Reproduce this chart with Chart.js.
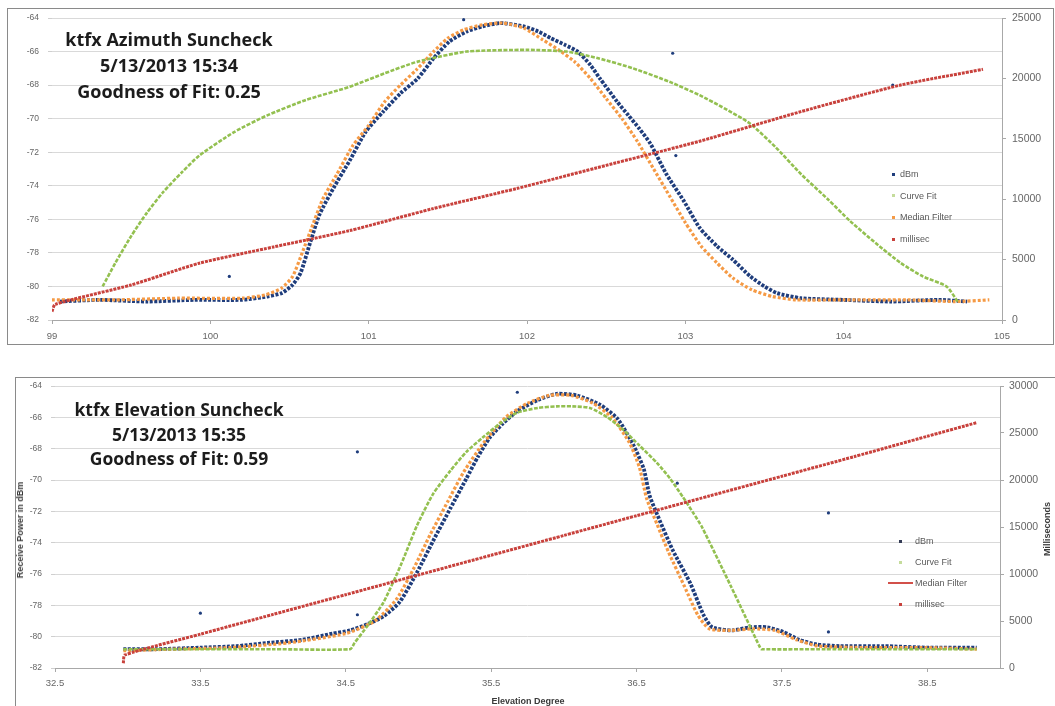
<!DOCTYPE html>
<html>
<head>
<meta charset="utf-8">
<script src="https://cdn.jsdelivr.net/npm/chart.js@4.4.1/dist/chart.umd.min.js"></script>
<style>
  body { margin: 0; background: #fff; width: 1055px; height: 706px; overflow: hidden; position: relative; font-family: "Liberation Sans", Arial, sans-serif; }
  .frame { position: absolute; border: 1px solid #8a8a8a; }
  canvas { position: absolute; left: 0; }
  .note { position: absolute; width: 300px; text-align: center; font-family: "Open Sans", Lato, sans-serif; font-weight: 700; color: #1c1c1c; }
  .leg { position: absolute; font-size: 9px; color: #595959; white-space: nowrap; line-height: 12px; }
  .leg i { position: absolute; display: block; }
  .axt { position: absolute; font-size: 9px; font-weight: 700; color: #3a3a3a; white-space: nowrap; transform: translate(-50%, -50%); }
</style>
</head>
<body>
<div class="frame" style="left:7px; top:8px; width:1045px; height:335px;"></div>
<div class="frame" style="left:15px; top:377px; width:1050px; height:340px;"></div>
<canvas id="azChart" width="1055" height="360" style="top:0"></canvas>
<canvas id="elChart" width="1055" height="336" style="top:370px"></canvas>

<div class="note" style="left:19px; top:26px; font-size:18px; line-height:26px;">ktfx Azimuth Suncheck<br>5/13/2013 15:34<br>Goodness of Fit: 0.25</div>
<div class="note" style="left:29px; top:397px; font-size:17.5px; line-height:24.5px;">ktfx Elevation Suncheck<br>5/13/2013 15:35<br>Goodness of Fit: 0.59</div>

<div class="axt" style="left:20px; top:530px; transform: translate(-50%, -50%) rotate(-90deg);">Receive Power in dBm</div>
<div class="axt" style="left:1047px; top:529px; transform: translate(-50%, -50%) rotate(-90deg);">Milliseconds</div>
<div class="axt" style="left:528px; top:701px;">Elevation Degree</div>

<div id="azLegend"></div>
<div id="elLegend"></div>

<script>
const seriesNames = ["dBm", "Curve Fit", "Median Filter", "millisec"];

// Azimuth suncheck (top chart): [azimuth degree, value]
const azTicksX = [99, 100, 101, 102, 103, 104, 105];
const azDbm = [
  [99.05, -80.9], [99.3, -80.8], [99.6, -80.9], [99.9, -80.8], [100.2, -80.8], [100.36, -80.6],
  [100.45, -80.4], [100.52, -79.9], [100.57, -79.2], [100.63, -77.4], [100.69, -75.7], [100.78, -74.1],
  [100.88, -72.5], [100.98, -70.8], [101.09, -69.6], [101.2, -68.5], [101.31, -67.6], [101.41, -66.4],
  [101.51, -65.4], [101.62, -64.8], [101.72, -64.5], [101.83, -64.3], [101.98, -64.5], [102.07, -64.8],
  [102.15, -65.2], [102.24, -65.6], [102.32, -66.0], [102.4, -66.8], [102.46, -67.6], [102.57, -69.0],
  [102.64, -69.8], [102.71, -70.6], [102.78, -71.5], [102.88, -73.3], [102.99, -74.9], [103.09, -76.5],
  [103.2, -77.6], [103.3, -78.4], [103.41, -79.4], [103.5, -80.0], [103.58, -80.4], [103.73, -80.7],
  [104.0, -80.8], [104.3, -80.9], [104.6, -80.8], [104.78, -80.9]
];
const azDbmStray = [[100.12, -79.4], [102.92, -66.1], [102.94, -72.2], [104.31, -68.0], [101.6, -64.1]];
const azCurveFit = [
  [99.32, -80.0], [99.4, -78.6], [99.5, -77.0], [99.6, -75.6], [99.7, -74.4], [99.82, -73.2],
  [99.93, -72.2], [100.15, -70.8], [100.36, -69.8], [100.6, -68.9], [100.88, -68.1], [101.1, -67.3],
  [101.31, -66.6], [101.62, -66.0], [102.0, -65.9], [102.25, -66.0], [102.45, -66.4], [102.67, -67.0],
  [102.9, -67.8], [103.09, -68.6], [103.25, -69.4], [103.41, -70.3], [103.57, -71.7], [103.73, -73.3],
  [103.9, -74.8], [104.04, -76.1], [104.2, -77.4], [104.36, -78.6], [104.5, -79.4], [104.65, -80.0],
  [104.72, -80.9]
];
const azMedian = [
  [99.0, -80.8], [99.4, -80.8], [99.8, -80.7], [100.2, -80.7], [100.35, -80.5], [100.45, -80.1],
  [100.52, -79.4], [100.58, -78.0], [100.64, -76.5], [100.71, -74.8], [100.8, -73.3], [100.9, -71.6],
  [101.0, -70.4], [101.1, -69.0], [101.2, -68.0], [101.3, -67.1], [101.41, -66.0], [101.5, -65.2],
  [101.6, -64.7], [101.72, -64.4], [101.85, -64.3], [101.98, -64.6], [102.1, -65.3], [102.2, -65.9],
  [102.3, -66.6], [102.4, -67.6], [102.5, -68.8], [102.6, -70.0], [102.7, -71.4], [102.8, -73.0],
  [102.9, -74.6], [103.0, -76.2], [103.1, -77.6], [103.2, -78.6], [103.3, -79.5], [103.42, -80.2],
  [103.55, -80.6], [103.7, -80.8], [104.0, -80.8], [104.4, -80.8], [104.7, -80.9], [104.92, -80.8]
];
const azMillisec = [
  [99.0, 700], [99.02, 1300], [99.5, 2900], [99.93, 4700], [100.4, 6050], [100.88, 7400], [101.4, 9200],
  [101.94, 10900], [102.5, 12800], [103.09, 14800], [103.73, 17250], [104.36, 19450], [104.88, 20750]
];

// Elevation suncheck (bottom chart): [elevation degree, value]
const elTicksX = [32.5, 33.5, 34.5, 35.5, 36.5, 37.5, 38.5];
const elDbm = [
  [32.97, -80.8], [33.2, -80.8], [33.5, -80.7], [33.75, -80.6], [33.96, -80.4], [34.2, -80.2],
  [34.41, -79.8], [34.53, -79.6], [34.65, -79.2], [34.76, -78.7], [34.87, -77.8], [34.99, -75.9],
  [35.1, -73.9], [35.22, -71.8], [35.33, -69.9], [35.41, -68.5], [35.49, -67.3], [35.58, -66.4],
  [35.68, -65.6], [35.82, -64.9], [35.95, -64.5], [36.09, -64.6], [36.25, -65.2], [36.37, -66.1],
  [36.48, -67.8], [36.55, -69.3], [36.59, -71.0], [36.66, -72.6], [36.75, -74.5], [36.87, -76.6],
  [36.96, -78.6], [37.02, -79.4], [37.16, -79.6], [37.28, -79.4], [37.4, -79.4], [37.51, -79.7],
  [37.62, -80.2], [37.74, -80.5], [37.9, -80.6], [38.2, -80.6], [38.5, -80.7], [38.84, -80.7]
];
const elDbmStray = [[33.5, -78.5], [34.58, -68.2], [34.58, -78.6], [35.68, -64.4], [36.78, -70.2], [37.82, -72.1], [37.82, -79.7]];
const elCurveFit = [
  [32.97, -80.8], [33.5, -80.8], [34.0, -80.8], [34.53, -80.8], [34.56, -80.4], [34.65, -79.3],
  [34.76, -77.8], [34.88, -75.4], [34.99, -72.9], [35.1, -70.9], [35.22, -69.4], [35.33, -68.2],
  [35.44, -67.3], [35.56, -66.4], [35.68, -65.7], [35.82, -65.4], [35.95, -65.3], [36.06, -65.3],
  [36.18, -65.4], [36.3, -66.0], [36.41, -66.8], [36.52, -67.8], [36.64, -68.9], [36.73, -69.9],
  [36.82, -71.1], [36.89, -72.1], [36.95, -73.0], [37.15, -76.8], [37.35, -80.7], [37.36, -80.8],
  [37.8, -80.8], [38.3, -80.8], [38.84, -80.8]
];
const elMedian = [
  [32.97, -80.9], [33.3, -80.8], [33.7, -80.7], [34.1, -80.4], [34.5, -79.8], [34.7, -79.0],
  [34.85, -77.6], [34.97, -75.6], [35.08, -73.5], [35.2, -71.4], [35.31, -69.5], [35.45, -67.6],
  [35.6, -66.0], [35.75, -65.1], [35.9, -64.6], [36.05, -64.6], [36.2, -65.1], [36.33, -66.0],
  [36.45, -67.6], [36.52, -69.2], [36.57, -71.2], [36.64, -72.8], [36.72, -74.6], [36.83, -76.8],
  [36.92, -78.6], [37.0, -79.5], [37.15, -79.6], [37.3, -79.5], [37.45, -79.6], [37.6, -80.2],
  [37.75, -80.6], [38.1, -80.7], [38.5, -80.7], [38.84, -80.8]
];
const elMillisec = [
  [32.97, 500], [32.98, 1380], [33.5, 3600], [34.0, 5700], [34.5, 7800], [35.0, 9900], [35.5, 12000],
  [36.0, 14100], [36.5, 16200], [37.0, 18300], [37.5, 20400], [38.0, 22500], [38.5, 24650], [38.84, 26100]
];

const BLUE = "#1f3d7c", GREEN = "#93c050", ORANGE = "#f59a45", RED = "#c8413c";
const tickColor = "#666666";
const pts = arr => arr.map(p => ({ x: p[0], y: p[1] }));

function lineSet(label, data, color, width, dash, axis, order) {
  return {
    label, data: pts(data), showLine: true, borderColor: color, backgroundColor: color,
    borderWidth: width, borderDash: dash, pointRadius: 0, tension: 0.2, yAxisID: axis, order
  };
}

function dotSet(label, data, color) {
  return { label, data: pts(data), showLine: false, pointRadius: 1.6, pointBorderWidth: 0,
    backgroundColor: color, borderColor: color, yAxisID: "y", order: 5 };
}

function buildChart(id, d) {
  new Chart(document.getElementById(id), {
    type: "scatter",
    data: {
      datasets: [
        lineSet(seriesNames[0], d.dbm, BLUE, 3.8, [3, 1.5], "y", 4),
        dotSet(seriesNames[0], d.stray, BLUE),
        lineSet(seriesNames[1], d.fit, GREEN, 2.6, [4, 1.5], "y", 2),
        lineSet(seriesNames[2], d.median, ORANGE, 3.2, [3, 2], "y", 3),
        lineSet(seriesNames[3], d.ms, RED, 3, [3, 1], "y2", 1)
      ]
    },
    options: {
      responsive: false,
      animation: false,
      layout: { padding: { top: d.top, left: 0, right: 0, bottom: 0 } },
      plugins: { legend: { display: false }, tooltip: { enabled: false } },
      scales: {
        x: {
          type: "linear", min: d.xMin, max: d.xMax,
          afterBuildTicks: s => { s.ticks = d.xTicks.map(v => ({ value: v })); },
          afterFit: s => { s.height = d.xh; },
          grid: { drawOnChartArea: false, tickLength: 4, tickColor: "#a8a8a8" },
          border: { color: "#a8a8a8" },
          ticks: { font: { family: "Liberation Sans", size: 9.5 }, color: tickColor, padding: d.xPad, maxRotation: 0, autoSkip: false, callback: v => String(v) }
        },
        y: {
          position: "left", min: -82, max: -64,
          afterFit: s => { s.width = d.yw; },
          grid: { color: "#d9d9d9", tickLength: 4, tickColor: "#cfcfcf" },
          border: { display: false },
          ticks: { stepSize: 2, font: { family: "Liberation Sans", size: 8.5 }, color: tickColor, padding: 9, callback: v => String(v) }
        },
        y2: {
          position: "right", min: 0, max: d.msMax,
          afterFit: s => { s.width = d.y2w; },
          grid: { drawOnChartArea: false, tickLength: 4, tickColor: "#a8a8a8" },
          border: { color: "#a8a8a8" },
          ticks: { stepSize: 5000, font: { family: "Liberation Sans", size: 10.5 }, color: tickColor, padding: d.y2Pad, callback: v => String(v) }
        }
      }
    }
  });
}

buildChart("azChart", {
  dbm: azDbm, stray: azDbmStray, fit: azCurveFit, median: azMedian, ms: azMillisec,
  xMin: 99, xMax: 105, xTicks: azTicksX, msMax: 25000, top: 18, xh: 40, yw: 52, y2w: 53, xPad: 7, y2Pad: 6
});
buildChart("elChart", {
  dbm: elDbm, stray: elDbmStray, fit: elCurveFit, median: elMedian, ms: elMillisec,
  xMin: 32.5, xMax: 39, xTicks: elTicksX, msMax: 30000, top: 16, xh: 38, yw: 55, y2w: 55, xPad: 6, y2Pad: 5
});

// legends sit inside the plot area, as in the workbook
function legend(id, left, top, rowH, textLeft, markers) {
  const box = document.getElementById(id);
  box.className = "leg";
  box.style.left = left + "px";
  box.style.top = top + "px";
  seriesNames.forEach((name, i) => {
    const row = document.createElement("div");
    row.style.position = "absolute";
    row.style.top = (i * rowH) + "px";
    row.style.left = "0px";
    row.style.height = "12px";
    const m = markers[i];
    const mk = document.createElement("i");
    mk.style.background = m.color;
    mk.style.width = m.w + "px";
    mk.style.height = m.h + "px";
    mk.style.left = m.x + "px";
    mk.style.top = (6 - m.h / 2) + "px";
    const t = document.createElement("span");
    t.textContent = name;
    t.style.position = "absolute";
    t.style.left = textLeft + "px";
    row.appendChild(mk);
    row.appendChild(t);
    box.appendChild(row);
  });
}

legend("azLegend", 890, 168, 21.7, 10, [
  { color: BLUE, w: 3, h: 3, x: 2 }, { color: "#c5dc9c", w: 3, h: 3, x: 2 },
  { color: ORANGE, w: 3, h: 3, x: 2 }, { color: RED, w: 3, h: 3, x: 2 }
]);
legend("elLegend", 888, 535, 21, 27, [
  { color: "#333b55", w: 3, h: 3, x: 11 }, { color: "#c5dc9c", w: 3, h: 3, x: 11 },
  { color: "#d2504a", w: 25, h: 2, x: 0 }, { color: RED, w: 3, h: 3, x: 11 }
]);
</script>
</body>
</html>
